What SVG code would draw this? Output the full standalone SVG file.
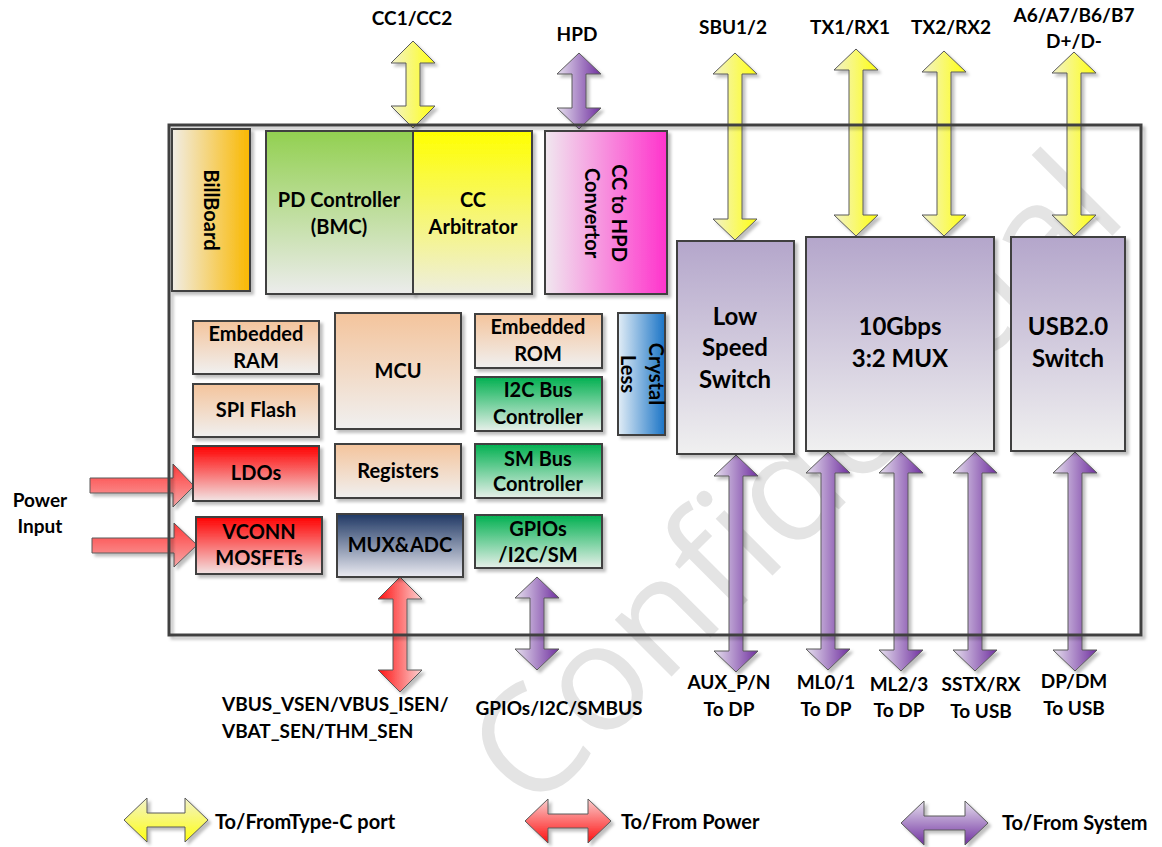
<svg xmlns="http://www.w3.org/2000/svg" width="1162" height="847" viewBox="0 0 1162 847">
<style>
.t{font-family:Lato,"Liberation Sans",sans-serif;font-weight:bold;fill:#000;text-anchor:middle}
.s19{font-size:19px}
.s20{font-size:20px}
.s24{font-size:24px}
.lg{font-family:Lato,"Liberation Sans",sans-serif;font-weight:bold;font-size:20px;fill:#000}
.box{stroke:#404040;stroke-width:2}
.arr{stroke:#5a5a5a;stroke-width:1}
.wm{font-family:"Open Sans","Liberation Sans",sans-serif;font-size:150px;fill:#e4e4e4}
</style>
<defs>
<filter id="sh" x="-20%" y="-20%" width="150%" height="150%"><feDropShadow dx="3" dy="3" stdDeviation="1.5" flood-color="#000" flood-opacity="0.25"/></filter>
<linearGradient id="gYel" x1="0" y1="0" x2="1" y2="0"><stop offset="0" stop-color="#f2f2cc"/><stop offset="1" stop-color="#ffff10"/></linearGradient>
<linearGradient id="gPur" x1="0" y1="0" x2="1" y2="0"><stop offset="0" stop-color="#e6e0ee"/><stop offset="1" stop-color="#7030a0"/></linearGradient>
<linearGradient id="gRed" x1="0" y1="0" x2="1" y2="0"><stop offset="0" stop-color="#ff1010"/><stop offset="1" stop-color="#fbd4d4"/></linearGradient>
<linearGradient id="gRedH" x1="0" y1="0" x2="0" y2="1"><stop offset="0" stop-color="#ff3a3a"/><stop offset="1" stop-color="#f7a8a8"/></linearGradient>
<linearGradient id="gYelV" x1="0" y1="0" x2="0" y2="1"><stop offset="0" stop-color="#f2f2cc"/><stop offset="1" stop-color="#ffff10"/></linearGradient>
<linearGradient id="gRedV" x1="0" y1="0" x2="0" y2="1"><stop offset="0" stop-color="#f9cccc"/><stop offset="1" stop-color="#ff1010"/></linearGradient>
<linearGradient id="gPurV" x1="0" y1="0" x2="0" y2="1"><stop offset="0" stop-color="#e6e0ee"/><stop offset="1" stop-color="#7030a0"/></linearGradient>
<linearGradient id="bPeach" x1="0" y1="0" x2="0" y2="1"><stop offset="0" stop-color="#f4c49c"/><stop offset="1" stop-color="#f0f0f0"/></linearGradient>
<linearGradient id="bGreenL" x1="0" y1="0" x2="0" y2="1"><stop offset="0" stop-color="#92d050"/><stop offset="1" stop-color="#ececec"/></linearGradient>
<linearGradient id="bYel" x1="0" y1="0" x2="0" y2="1"><stop offset="0" stop-color="#ffff00"/><stop offset="1" stop-color="#eeeee0"/></linearGradient>
<linearGradient id="bRed" x1="0" y1="0" x2="0" y2="1"><stop offset="0" stop-color="#ff0000"/><stop offset="1" stop-color="#f2e4e4"/></linearGradient>
<linearGradient id="bGreen" x1="0" y1="0" x2="0" y2="1"><stop offset="0" stop-color="#00b050"/><stop offset="1" stop-color="#e8f0ea"/></linearGradient>
<linearGradient id="bNavy" x1="0" y1="0" x2="0" y2="1"><stop offset="0" stop-color="#1f3864"/><stop offset="1" stop-color="#ebebf2"/></linearGradient>
<linearGradient id="bLav" x1="0" y1="0" x2="0" y2="1"><stop offset="0" stop-color="#b4a6cb"/><stop offset="1" stop-color="#f0f0f0"/></linearGradient>
<linearGradient id="bOrange" x1="0" y1="0" x2="1" y2="0"><stop offset="0" stop-color="#f1ede6"/><stop offset="1" stop-color="#f9b800"/></linearGradient>
<linearGradient id="bPink" x1="0" y1="0" x2="1" y2="0"><stop offset="0" stop-color="#f0e8ef"/><stop offset="1" stop-color="#ff33cc"/></linearGradient>
<linearGradient id="bBlue" x1="0" y1="0" x2="1" y2="0"><stop offset="0" stop-color="#e2edf6"/><stop offset="1" stop-color="#1a74c6"/></linearGradient>
</defs>
<rect width="1162" height="847" fill="#fff"/>
<text class="wm" transform="translate(532,816) rotate(-45)">Confidential</text>

<g id="connectors" filter="url(#sh)">
<path id="a-cc" class="arr" fill="url(#gYel)" d="M413,41 L435,63 L420,63 L420,106 L435,106 L413,128 L391,106 L406,106 L406,63 L391,63 Z"/>
<path id="a-sbu" class="arr" fill="url(#gYel)" d="M735,53 L757,74 L742,74 L742,219 L757,219 L735,240 L713,219 L728,219 L728,74 L713,74 Z"/>
<path id="a-tx1" class="arr" fill="url(#gYel)" d="M856,49 L878,70 L863,70 L863,215 L878,215 L856,236 L834,215 L849,215 L849,70 L834,70 Z"/>
<path id="a-tx2" class="arr" fill="url(#gYel)" d="M944,51 L966,72 L951,72 L951,215 L966,215 L944,236 L922,215 L937,215 L937,72 L922,72 Z"/>
<path id="a-a6" class="arr" fill="url(#gYel)" d="M1074,52 L1096,73 L1081,73 L1081,215 L1096,215 L1074,236 L1052,215 L1067,215 L1067,73 L1052,73 Z"/>
<path id="a-hpd" class="arr" fill="url(#gPur)" d="M579,53 L601,74 L586,74 L586,108 L601,108 L579,129 L557,108 L572,108 L572,74 L557,74 Z"/>
<path id="a-gpio" class="arr" fill="url(#gPur)" d="M537,577 L559,598 L544,598 L544,649 L559,649 L537,670 L515,649 L530,649 L530,598 L515,598 Z"/>
<path id="a-sen" class="arr" fill="url(#gRed)" d="M400,577 L422,599 L407,599 L407,670 L422,670 L400,692 L378,670 L393,670 L393,599 L378,599 Z"/>
<path id="a-aux" class="arr" fill="url(#gPur)" d="M736,455 L758,476 L743,476 L743,651 L758,651 L736,672 L714,651 L729,651 L729,476 L714,476 Z"/>
<path id="a-ml0" class="arr" fill="url(#gPur)" d="M828,452 L850,473 L835,473 L835,649 L850,649 L828,670 L806,649 L821,649 L821,473 L806,473 Z"/>
<path id="a-ml2" class="arr" fill="url(#gPur)" d="M901,452 L923,473 L908,473 L908,650 L923,650 L901,671 L879,650 L894,650 L894,473 L879,473 Z"/>
<path id="a-sstx" class="arr" fill="url(#gPur)" d="M975,452 L997,473 L982,473 L982,650 L997,650 L975,671 L953,650 L968,650 L968,473 L953,473 Z"/>
<path id="a-dp" class="arr" fill="url(#gPur)" d="M1075,452 L1097,473 L1082,473 L1082,650 L1097,650 L1075,671 L1053,650 L1068,650 L1068,473 L1053,473 Z"/>
<path id="a-pw1" class="arr" fill="url(#gRedH)" d="M90,478 L173,478 L173,464 L194,486 L173,507 L173,493 L90,493 Z"/>
<path id="a-pw2" class="arr" fill="url(#gRedH)" d="M92,538 L174,538 L174,523 L197,545 L174,567 L174,553 L92,553 Z"/>
</g>

<rect id="frame" x="169" y="125" width="972" height="510" fill="none" stroke="#404040" stroke-width="3" filter="url(#sh)"/>

<g id="billboard"><rect class="box" x="172" y="129" width="78" height="162" fill="url(#bOrange)" filter="url(#sh)"/><text class="t s20" transform="translate(204,210) rotate(90)">BillBoard</text></g>
<g id="pd-controller"><rect class="box" x="266" y="131" width="147" height="163" fill="url(#bGreenL)" filter="url(#sh)"/><text class="t s20" x="339" y="207">PD Controller</text><text class="t s20" x="339" y="234">(BMC)</text></g>
<g id="cc-arbitrator"><rect class="box" x="413" y="131" width="119" height="163" fill="url(#bYel)" filter="url(#sh)"/><text class="t s20" x="473" y="207">CC</text><text class="t s20" x="473" y="234">Arbitrator</text></g>
<g id="cc-hpd"><rect class="box" x="545" y="131" width="122" height="163" fill="url(#bPink)" filter="url(#sh)"/><text class="t s20" transform="translate(612,213) rotate(90)">CC to HPD</text><text class="t s20" transform="translate(585,213) rotate(90)">Convertor</text></g>
<g id="crystal"><rect class="box" x="618" y="313" width="47" height="122" fill="url(#bBlue)" filter="url(#sh)"/><text class="t s20" transform="translate(649,374) rotate(90)">Crystal</text><text class="t s20" transform="translate(621,374) rotate(90)">Less</text></g>
<g id="emb-ram"><rect class="box" x="193" y="321" width="126" height="53" fill="url(#bPeach)" filter="url(#sh)"/><text class="t s20" x="256" y="341">Embedded</text><text class="t s20" x="256" y="368">RAM</text></g>
<g id="spi-flash"><rect class="box" x="193" y="384" width="126" height="53" fill="url(#bPeach)" filter="url(#sh)"/><text class="t s20" x="256" y="417">SPI Flash</text></g>
<g id="ldos"><rect class="box" x="193" y="446" width="126" height="55" fill="url(#bRed)" filter="url(#sh)"/><text class="t s20" x="256" y="480">LDOs</text></g>
<g id="vconn"><rect class="box" x="196" y="517" width="126" height="57" fill="url(#bRed)" filter="url(#sh)"/><text class="t s20" x="259" y="539">VCONN</text><text class="t s20" x="259" y="565">MOSFETs</text></g>
<g id="mcu"><rect class="box" x="335" y="313" width="126" height="116" fill="url(#bPeach)" filter="url(#sh)"/><text class="t s20" x="398" y="378">MCU</text></g>
<g id="registers"><rect class="box" x="335" y="444" width="126" height="54" fill="url(#bPeach)" filter="url(#sh)"/><text class="t s20" x="398" y="478">Registers</text></g>
<g id="mux-adc"><rect class="box" x="337" y="514" width="126" height="63" fill="url(#bNavy)" filter="url(#sh)"/><text class="t s20" x="400" y="552">MUX&amp;ADC</text></g>
<g id="emb-rom"><rect class="box" x="475" y="314" width="127" height="54" fill="url(#bPeach)" filter="url(#sh)"/><text class="t s20" x="538" y="334">Embedded</text><text class="t s20" x="538" y="361">ROM</text></g>
<g id="i2c-bus"><rect class="box" x="475" y="377" width="127" height="54" fill="url(#bGreen)" filter="url(#sh)"/><text class="t s20" x="538" y="397">I2C Bus</text><text class="t s20" x="538" y="424">Controller</text></g>
<g id="sm-bus"><rect class="box" x="475" y="444" width="127" height="54" fill="url(#bGreen)" filter="url(#sh)"/><text class="t s20" x="538" y="466">SM Bus</text><text class="t s20" x="538" y="491">Controller</text></g>
<g id="gpios"><rect class="box" x="475" y="515" width="127" height="53" fill="url(#bGreen)" filter="url(#sh)"/><text class="t s20" x="538" y="536">GPIOs</text><text class="t s20" x="538" y="562">/I2C/SM</text></g>
<g id="low-speed"><rect class="box" x="677" y="241" width="117" height="213" fill="url(#bLav)" filter="url(#sh)"/><text class="t s24" x="735" y="325">Low</text><text class="t s24" x="735" y="356">Speed</text><text class="t s24" x="735" y="388">Switch</text></g>
<g id="mux10g"><rect class="box" x="806" y="237" width="188" height="214" fill="url(#bLav)" filter="url(#sh)"/><text class="t s24" x="900" y="335">10Gbps</text><text class="t s24" x="900" y="367">3:2 MUX</text></g>
<g id="usb2"><rect class="box" x="1011" y="237" width="114" height="214" fill="url(#bLav)" filter="url(#sh)"/><text class="t s24" x="1068" y="335">USB2.0</text><text class="t s24" x="1068" y="367">Switch</text></g>

<g id="labels">
<text class="t s19" x="412" y="25">CC1/CC2</text>
<text class="t s19" x="577" y="41">HPD</text>
<text class="t s19" x="733" y="34">SBU1/2</text>
<text class="t s19" x="850" y="34">TX1/RX1</text>
<text class="t s19" x="951" y="34">TX2/RX2</text>
<text class="t s19" x="1074" y="22">A6/A7/B6/B7</text>
<text class="t s19" x="1074" y="48">D+/D-</text>
<text class="t s19" x="40" y="507">Power</text>
<text class="t s19" x="40" y="533">Input</text>
<text class="t s19" x="222" y="711" style="text-anchor:start">VBUS_VSEN/VBUS_ISEN/</text>
<text class="t s19" x="222" y="738" style="text-anchor:start">VBAT_SEN/THM_SEN</text>
<text class="t s19" x="559" y="715">GPIOs/I2C/SMBUS</text>
<text class="t s19" x="729" y="689">AUX_P/N</text><text class="t s19" x="729" y="716">To DP</text>
<text class="t s19" x="826" y="689">ML0/1</text><text class="t s19" x="826" y="716">To DP</text>
<text class="t s19" x="899" y="691">ML2/3</text><text class="t s19" x="899" y="717">To DP</text>
<text class="t s19" x="981" y="691">SSTX/RX</text><text class="t s19" x="981" y="718">To USB</text>
<text class="t s19" x="1074" y="688">DP/DM</text><text class="t s19" x="1074" y="715">To USB</text>
</g>

<g id="legend">
<path class="arr" fill="url(#gYelV)" filter="url(#sh)" d="M124,820 L147,798 L147,813 L185,813 L185,798 L208,820 L185,842 L185,827 L147,827 L147,842 Z"/>
<text class="lg" x="215" y="829">To/FromType-C port</text>
<path class="arr" fill="url(#gRedV)" filter="url(#sh)" d="M525,821 L548,799 L548,814 L588,814 L588,799 L611,821 L588,843 L588,828 L548,828 L548,843 Z"/>
<text class="lg" x="621" y="829">To/From Power</text>
<path class="arr" fill="url(#gPurV)" filter="url(#sh)" d="M901,823 L924,801 L924,816 L965,816 L965,801 L988,823 L965,845 L965,830 L924,830 L924,845 Z"/>
<text class="lg" x="1002" y="830">To/From System</text>
</g>
</svg>
